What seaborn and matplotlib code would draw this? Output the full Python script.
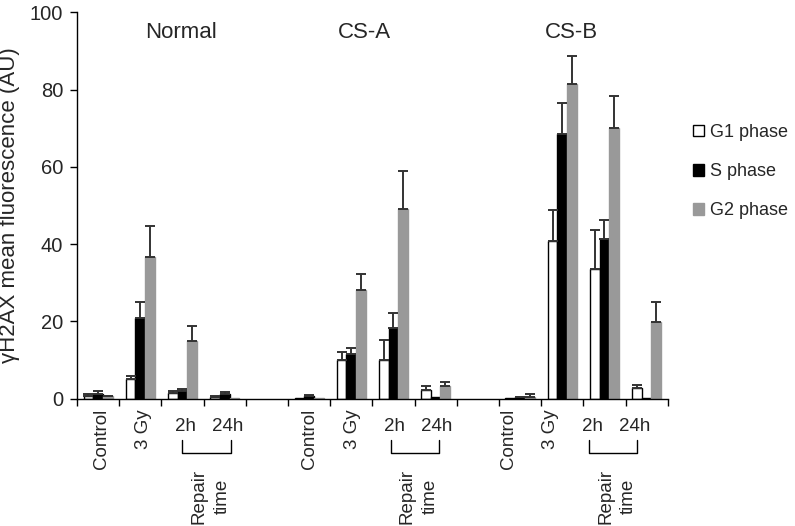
import numpy as np
import pandas as pd
import matplotlib
matplotlib.use("Agg")
import matplotlib.pyplot as plt
import seaborn as sns

# ---------------- data ----------------
groups = ["Normal", "CS-A", "CS-B"]
conditions = ["Control", "3 Gy", "2h", "24h"]
phases = ["G1 phase", "S phase", "G2 phase"]

normal_g1 = [0.8, 5.1, 1.5, 0.4]
normal_g1_err = [0.3, 0.9, 0.6, 0.2]
normal_s = [1.3, 20.9, 1.9, 1.2]
normal_s_err = [0.6, 4.0, 0.6, 0.6]
normal_g2 = [0.6, 36.6, 14.9, 0.2]
normal_g2_err = [0.2, 8.2, 4.0, 0.0]

csa_g1 = [0.2, 10.0, 10.0, 2.2]
csa_g1_err = [0.0, 2.2, 5.1, 1.0]
csa_s = [0.7, 11.5, 18.3, 0.5]
csa_s_err = [0.2, 1.7, 4.0, 0.0]
csa_g2 = [0.3, 28.1, 49.0, 3.3]
csa_g2_err = [0.0, 4.1, 10.0, 1.0]

csb_g1 = [0.1, 40.9, 33.6, 2.8]
csb_g1_err = [0.0, 7.9, 10.1, 0.7]
csb_s = [0.4, 68.5, 41.3, 0.1]
csb_s_err = [0.1, 8.0, 4.9, 0.0]
csb_g2 = [0.5, 81.4, 70.0, 19.9]
csb_g2_err = [0.7, 7.3, 8.3, 5.1]

values = {
    "Normal": [normal_g1, normal_s, normal_g2],
    "CS-A": [csa_g1, csa_s, csa_g2],
    "CS-B": [csb_g1, csb_s, csb_g2],
}
errors = {
    "Normal": [normal_g1_err, normal_s_err, normal_g2_err],
    "CS-A": [csa_g1_err, csa_s_err, csa_g2_err],
    "CS-B": [csb_g1_err, csb_s_err, csb_g2_err],
}

y_ticks = [0, 20, 40, 60, 80, 100]
y_label = "\u03b3H2AX mean fluorescence (AU)"
repair_label = "Repair\ntime"

# ---------------- table ----------------
order = []
rows = []
err_lookup = {}
for gi, g in enumerate(groups):
    for ci, c in enumerate(conditions):
        key = f"{g}|{c}"
        order.append(key)
        for pi, p in enumerate(phases):
            rows.append({"slot": key, "phase": p, "value": values[g][pi][ci]})
            err_lookup[(len(order) - 1, pi)] = (values[g][pi][ci], errors[g][pi][ci])
    if gi < len(groups) - 1:
        order.append(f"gap{gi}")
df = pd.DataFrame(rows)

# ---------------- style ----------------
sns.set_style("ticks")
plt.rcParams["font.family"] = ["Liberation Sans", "DejaVu Sans"]

W, H = 795, 526
fig = plt.figure(figsize=(W / 100, H / 100), dpi=100)
ax_l, ax_r, ax_t, ax_b = 77, 667.7, 12.3, 398.7
ax_w = ax_r - ax_l
ax = fig.add_axes([ax_l / W, 1 - ax_b / H, ax_w / W, (ax_b - ax_t) / H])

colors = ["#ffffff", "#000000", "#999999"]
edges = ["#000000", "#000000", "#999999"]
bar_width = 0.69

sns.barplot(data=df, x="slot", y="value", hue="phase", order=order,
            hue_order=phases, palette=colors, width=bar_width,
            errorbar=None, legend=False, ax=ax, saturation=1)

sub_w = bar_width / 3
err_x, err_y, err_e = [], [], []
for cont in ax.containers:
    for patch in cont.patches:
        xc = patch.get_x() + patch.get_width() / 2
        slot = int(round(xc))
        pi = int(round((xc - slot) / sub_w)) + 1
        patch.set_facecolor(colors[pi])
        patch.set_edgecolor(edges[pi])
        patch.set_linewidth(1.0)
        v, e = err_lookup[(slot, pi)]
        if e > 0:
            err_x.append(xc)
            err_y.append(v)
            err_e.append(e)
ax.errorbar(err_x, err_y, yerr=[np.zeros(len(err_e)), err_e], fmt="none",
            ecolor="#333333", elinewidth=1.4, capsize=3.5, capthick=1.4, zorder=5)

ax.set_xlim(-0.5, len(order) - 0.5)
ax.set_ylim(0, 100)
ax.set_yticks(y_ticks)
ax.set_xticks(np.arange(-0.5, len(order), 1.0))
ax.set_xticklabels([])
ax.set_xlabel("")
ax.set_ylabel(y_label, fontsize=16)
ax.yaxis.set_label_coords((20 - ax_l) / ax_w, 0.5)
ax.tick_params(axis="y", labelsize=14.5, length=5, width=1, color="black", pad=5)
ax.tick_params(axis="x", length=5, width=1, color="black")
sns.despine(ax=ax)
for s in ["left", "bottom"]:
    ax.spines[s].set_color("black")
    ax.spines[s].set_linewidth(1.0)

# ---------------- custom x labels ----------------
trans = ax.get_xaxis_transform()
ax_h = ax_b - ax_t
def yfrac(px):
    return (ax_b - px) / ax_h

label_shift = {"Normal": 0.08, "CS-A": 0.02, "CS-B": -0.28}
title_x = {"Normal": 1.97, "CS-A": 6.31, "CS-B": 11.21}
lab_fs = 13.5
for gi, g in enumerate(groups):
    base = gi * 5
    off = label_shift[g]
    for ci, c in enumerate(conditions):
        x = base + ci + off
        if ci < 2:
            ax.text(x, yfrac(409), c, rotation=90, ha="center", va="top",
                    fontsize=lab_fs, transform=trans)
        else:
            ax.text(x, yfrac(418), c, ha="center", va="top",
                    fontsize=lab_fs, transform=trans)
    x0 = base + 2 + off - 0.08
    x1 = base + 3 + off + 0.06
    ax.plot([x0, x0, x1, x1], [yfrac(440), yfrac(452.7), yfrac(452.7), yfrac(440)],
            color="black", lw=1.0, transform=trans, clip_on=False)
    ax.text(base + 2.5 + off + 0.08, yfrac(496), repair_label, rotation=90,
            ha="center", va="center", multialignment="center",
            fontsize=lab_fs, linespacing=1.45, transform=trans)
    ax.text(title_x[g], 94.9, g, ha="center", va="center", fontsize=16)

# ---------------- legend ----------------
handles = [plt.Rectangle((0, 0), 1, 1, facecolor=colors[i], edgecolor=edges[i], lw=1.0)
           for i in range(3)]
fig.legend(handles, phases, loc="upper left", bbox_to_anchor=(693 / W, 1 - 124 / H),
           frameon=False, fontsize=13, handlelength=0.6, handleheight=0.6,
           handletextpad=0.35, labelspacing=1.23, borderpad=0, borderaxespad=0)

fig.savefig("out.png", dpi=100)
